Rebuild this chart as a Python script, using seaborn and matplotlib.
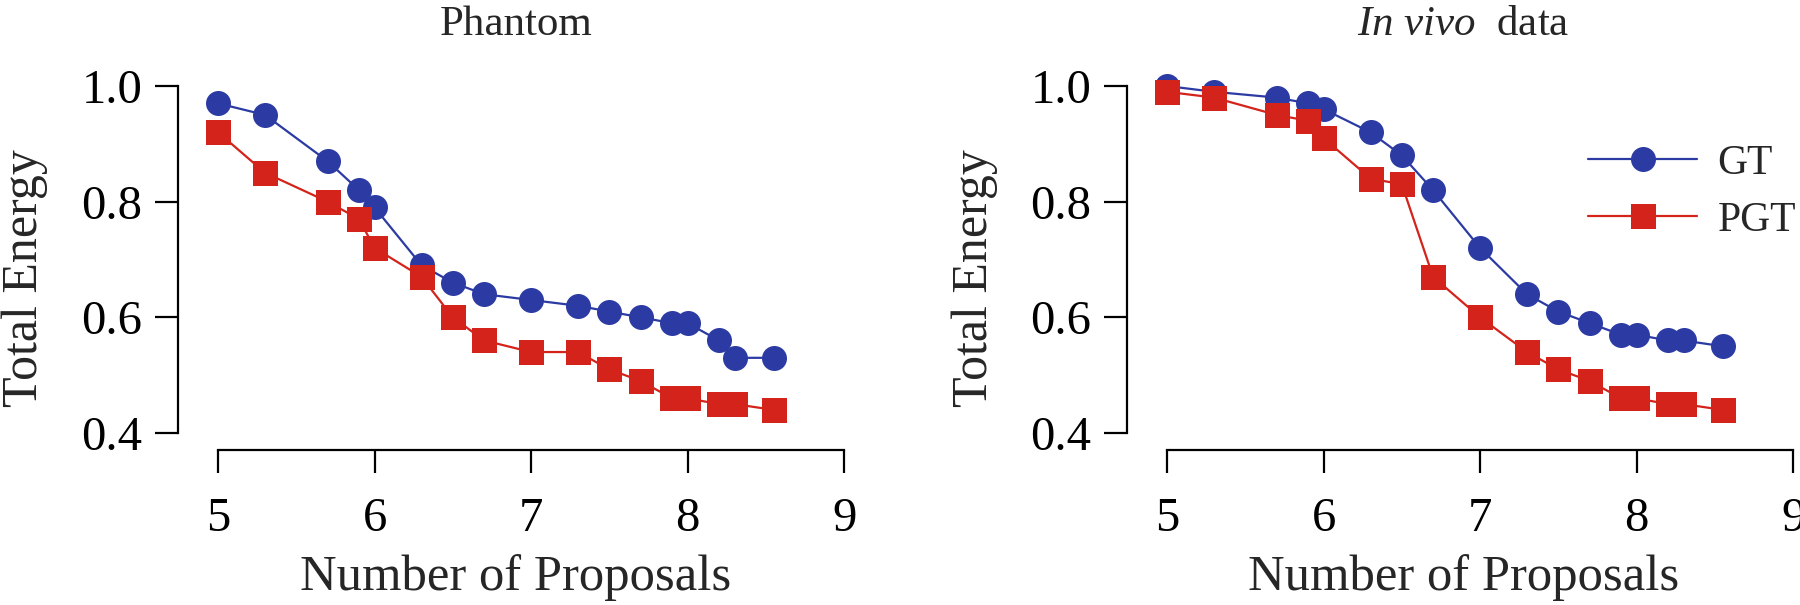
import pandas as pd
import matplotlib
matplotlib.use('Agg')
import matplotlib.pyplot as plt
import seaborn as sns

# data
proposals = [5.0, 5.3, 5.7, 5.9, 6.0, 6.3, 6.5, 6.7, 7.0, 7.3, 7.5, 7.7, 7.9, 8.0, 8.2, 8.3, 8.55]
phantom_gt = [0.97, 0.95, 0.87, 0.82, 0.79, 0.69, 0.66, 0.64, 0.63, 0.62, 0.61, 0.60, 0.59, 0.59, 0.56, 0.53, 0.53]
phantom_pgt = [0.92, 0.85, 0.80, 0.77, 0.72, 0.67, 0.60, 0.56, 0.54, 0.54, 0.51, 0.49, 0.46, 0.46, 0.45, 0.45, 0.44]
invivo_gt = [1.00, 0.99, 0.98, 0.97, 0.96, 0.92, 0.88, 0.82, 0.72, 0.64, 0.61, 0.59, 0.57, 0.57, 0.56, 0.56, 0.55]
invivo_pgt = [0.99, 0.98, 0.95, 0.94, 0.91, 0.84, 0.83, 0.67, 0.60, 0.54, 0.51, 0.49, 0.46, 0.46, 0.45, 0.45, 0.44]

x_ticks = [5, 6, 7, 8, 9]
y_ticks = [0.4, 0.6, 0.8, 1.0]
methods = ['GT', 'PGT']

sns.set_theme(style='ticks')
plt.rcParams['font.family'] = ['Liberation Serif', 'DejaVu Serif']
plt.rcParams['mathtext.fontset'] = 'custom'
plt.rcParams['mathtext.rm'] = 'Liberation Serif'
plt.rcParams['mathtext.it'] = 'Liberation Serif:italic'

palette = {'GT': '#2c3ba3', 'PGT': '#d3231b'}
markers = {'GT': 'o', 'PGT': 's'}


def make_df(gt, pgt):
    rows = []
    for m, vals in zip(methods, [gt, pgt]):
        for x, v in zip(proposals, vals):
            rows.append({'proposals': x, 'energy': v, 'method': m})
    return pd.DataFrame(rows)


fig = plt.figure(figsize=(18, 6.05), dpi=100)
W, H = 1800, 605
ax1 = fig.add_axes([178 / W, (H - 450) / H, 676 / W, 390 / H])
ax2 = fig.add_axes([1127 / W, (H - 450) / H, 673 / W, 390 / H])

panels = [(ax1, phantom_gt, phantom_pgt, 'Phantom', 4.744 + 676 / 156.5),
          (ax2, invivo_gt, invivo_pgt, r'$\it{In\ vivo}$  data', 4.744 + 673 / 156.5)]

for ax, gt, pgt, title, xmax in panels:
    df = make_df(gt, pgt)
    sns.lineplot(data=df, x='proposals', y='energy', hue='method', style='method',
                 palette=palette, markers=markers, dashes=False, ax=ax,
                 markersize=18, linewidth=1.6, markeredgewidth=0,
                 legend=(ax is ax2))
    ax.set_xlim(4.744, xmax)
    ax.set_ylim(0.3706, 1.045)
    ax.set_xticks(x_ticks)
    ax.set_yticks(y_ticks)
    ax.set_yticklabels(['%.1f' % v for v in y_ticks])
    for s in ['top', 'right']:
        ax.spines[s].set_visible(False)
    ax.spines['left'].set_bounds(0.4, 1.0)
    ax.spines['bottom'].set_bounds(5, 9)
    for s in ['left', 'bottom']:
        ax.spines[s].set_linewidth(1.6)
        ax.spines[s].set_color('black')
    ax.tick_params(axis='both', length=16.5, width=1.6, colors='black', labelsize=35)
    ax.tick_params(axis='x', pad=17)
    ax.tick_params(axis='y', pad=9)
    ax.set_xlabel('Number of Proposals', fontsize=36.5)
    ax.set_ylabel('Total Energy', fontsize=36)
    ax.xaxis.label.set_va('center')
    ax.xaxis.set_label_coords(0.5, -0.326)
    ax.yaxis.label.set_va('center')
    ax.yaxis.set_label_coords(-0.226, 0.441)
    ax.text(0.5, 1.09, title, transform=ax.transAxes, fontsize=31,
            ha='center', va='center')

leg = ax2.legend(frameon=False, fontsize=30, loc='upper left',
                 bbox_to_anchor=(0.63, 0.88), handlelength=2.6,
                 handletextpad=0.5, labelspacing=0.45, markerscale=1.0)

fig.savefig('out.png', dpi=100)
